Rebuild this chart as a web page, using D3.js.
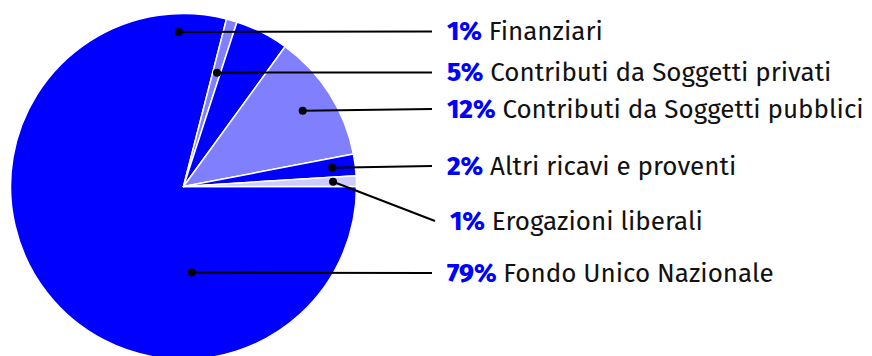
<!DOCTYPE html>
<html>
<head>
<meta charset="utf-8">
<script src="https://cdn.jsdelivr.net/npm/d3@7"></script>
<style>
  html, body { margin: 0; padding: 0; background: #fff; }
  svg { display: block; }
  text { font-family: "Fira Sans", "Open Sans", "Noto Sans", sans-serif; }
</style>
</head>
<body>
<svg id="chart" width="872" height="356"></svg>
<script>
// Revenue breakdown (percent of total)
const categories = [
  "Fondo Unico Nazionale",
  "Finanziari",
  "Contributi da Soggetti privati",
  "Contributi da Soggetti pubblici",
  "Altri ricavi e proventi",
  "Erogazioni liberali"
];
const shares = [79, 1, 5, 12, 2, 1];

// Fill per slice
const sliceColors = ["#0000ff", "#8080ff", "#0000ff", "#8080ff", "#0000ff", "#ccccff"];

// Callout layout: label row, leader end, and anchor placement
// (anchor angle offset from slice mid in degrees, anchor radius as fraction of pie radius)
const calloutRowY   = [273, 31.5, 72.5, 109, 166, 221];
const calloutLineX  = [432, 432, 432, 432, 432, 435];
const anchorOffset  = [-57.7, -18, -10.6, 0, 0, 0];
const anchorRadius  = [0.5, 0.894, 0.686, 0.816, 0.866, 0.865];

const width = 872, height = 356;
const cx = 183.5, cy = 186.5, radius = 173;
const fontSize = 26;

const svg = d3.select("#chart");
const g = svg.append("g").attr("transform", `translate(${cx},${cy})`);

const pie = d3.pie()
  .sort(null)
  .value(d => d)
  .startAngle(Math.PI / 2)
  .endAngle(Math.PI / 2 + 2 * Math.PI);

const arcs = pie(shares);
const arc = d3.arc().innerRadius(0).outerRadius(radius);

g.selectAll("path.slice")
  .data(arcs)
  .join("path")
  .attr("class", "slice")
  .attr("d", arc)
  .attr("fill", (d, i) => sliceColors[i])
  .attr("stroke", "#fff")
  .attr("stroke-width", 1.5)
  .attr("stroke-linejoin", "round");

// anchor point for each callout, derived from the slice angles
const anchors = arcs.map((d, i) => {
  const mid = (d.startAngle + d.endAngle) / 2 + anchorOffset[i] * Math.PI / 180;
  const r = radius * anchorRadius[i];
  return [cx + Math.sin(mid) * r, cy - Math.cos(mid) * r];
});

const callouts = svg.append("g");

callouts.selectAll("line")
  .data(arcs)
  .join("line")
  .attr("x1", (d, i) => anchors[i][0])
  .attr("y1", (d, i) => anchors[i][1])
  .attr("x2", (d, i) => calloutLineX[i])
  .attr("y2", (d, i) => calloutRowY[i])
  .attr("stroke", "#000")
  .attr("stroke-width", 2);

callouts.selectAll("circle")
  .data(arcs)
  .join("circle")
  .attr("cx", (d, i) => anchors[i][0])
  .attr("cy", (d, i) => anchors[i][1])
  .attr("r", 4)
  .attr("fill", "#000");

const labels = callouts.selectAll("text")
  .data(arcs)
  .join("text")
  .attr("x", (d, i) => calloutLineX[i] + 15)
  .attr("y", (d, i) => calloutRowY[i])
  .attr("dy", "0.33em")
  .attr("font-size", fontSize);

labels.append("tspan")
  .attr("font-weight", 800)
  .attr("fill", "#0000ff")
  .text(d => d.data + "%");

labels.append("tspan")
  .attr("fill", "#111")
  .text((d, i) => " " + categories[i]);
</script>
</body>
</html>
